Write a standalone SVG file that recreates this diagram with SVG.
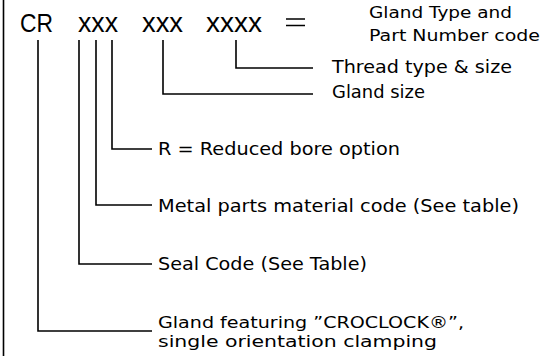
<svg xmlns="http://www.w3.org/2000/svg" width="544" height="356" viewBox="0 0 544 356">
<style>
.ln{stroke:#000;stroke-width:1.6;fill:none}
.big{font-family:"Liberation Sans",Arial,sans-serif;font-size:25px;fill:#000}
.xs{font-size:28px}
.lbl{font-family:"DejaVu Sans",sans-serif;font-size:17px;fill:#000}
.sm{font-size:16px}
</style>
<rect width="544" height="356" fill="#fff"/>
<g id="code">
<text class="big" x="20" y="32" textLength="33" lengthAdjust="spacingAndGlyphs">CR</text>
<text class="big xs" x="78" y="32" textLength="40" lengthAdjust="spacingAndGlyphs">xxx</text>
<text class="big xs" x="142" y="32" textLength="41" lengthAdjust="spacingAndGlyphs">xxx</text>
<text class="big xs" x="206" y="32" textLength="56" lengthAdjust="spacingAndGlyphs">xxxx</text>
<path class="ln" d="M286 19H305M286 25.5H305"/>
</g>
<g id="title">
<text class="lbl sm" x="369" y="18" textLength="143" lengthAdjust="spacingAndGlyphs">Gland Type and</text>
<text class="lbl sm" x="369" y="41" textLength="171" lengthAdjust="spacingAndGlyphs">Part Number code</text>
</g>
<g id="thread"><text class="lbl" x="332" y="73" textLength="180" lengthAdjust="spacingAndGlyphs">Thread type &amp; size</text></g>
<g id="glandsize"><text class="lbl" x="332" y="98" textLength="93" lengthAdjust="spacingAndGlyphs">Gland size</text></g>
<g id="reduced"><text class="lbl" x="158" y="155" textLength="242" lengthAdjust="spacingAndGlyphs">R = Reduced bore option</text></g>
<g id="metal"><text class="lbl" x="158" y="212" textLength="361" lengthAdjust="spacingAndGlyphs">Metal parts material code (See table)</text></g>
<g id="seal"><text class="lbl" x="158" y="270" textLength="209" lengthAdjust="spacingAndGlyphs">Seal Code (See Table)</text></g>
<g id="gland">
<text class="lbl sm" x="158" y="328" textLength="306" lengthAdjust="spacingAndGlyphs">Gland featuring ”CROCLOCK®”,</text>
<text class="lbl sm" x="158" y="347" textLength="279" lengthAdjust="spacingAndGlyphs">single orientation clamping</text>
</g>
<g id="connectors">
<path class="ln" d="M3.5 0V356"/>
<path class="ln" d="M236 40V68H313"/>
<path class="ln" d="M163 40V94H313"/>
<path class="ln" d="M112 40V149H152"/>
<path class="ln" d="M96 40V205H152"/>
<path class="ln" d="M79 40V264H152"/>
<path class="ln" d="M38 40V331H152"/>
</g>
</svg>
